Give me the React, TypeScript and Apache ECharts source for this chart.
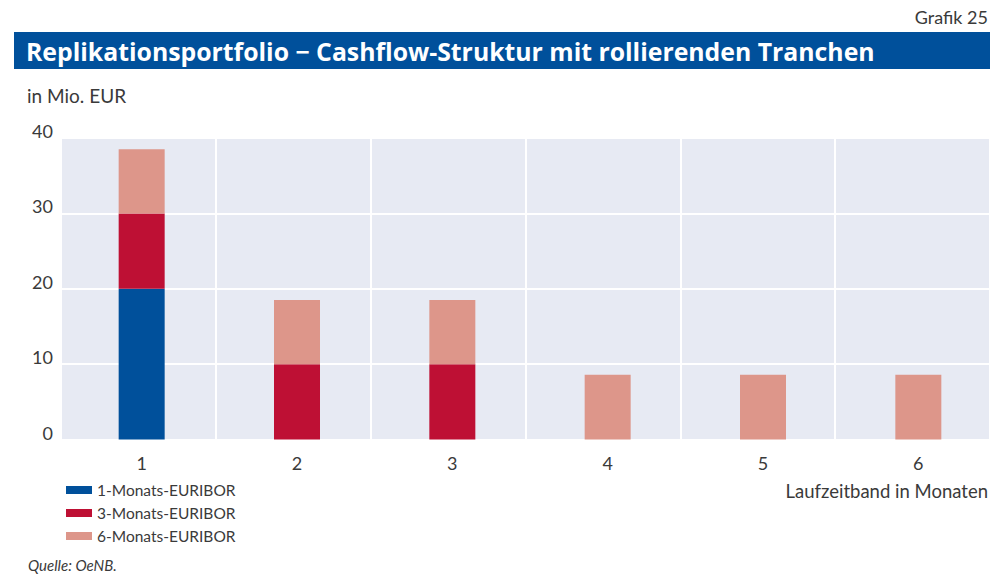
import React, { useEffect, useRef } from "react";
import * as echarts from "echarts";

const categories = ["1", "2", "3", "4", "5", "6"];
const oneMonth: (number | null)[] = [20, null, null, null, null, null];
const threeMonth: (number | null)[] = [10, 10, 10, null, null, null];
const sixMonth: (number | null)[] = [8.5, 8.5, 8.5, 8.6, 8.6, 8.6];
const seriesNames = ["1-Monats-EURIBOR", "3-Monats-EURIBOR", "6-Monats-EURIBOR"];
const colors = ["#00509b", "#be1034", "#dd968a"];
const yTicks = { min: 0, max: 40, interval: 10 };

const FONT = "Lato, 'Open Sans', sans-serif";
const TITLE_FONT = "'Open Sans', Lato, sans-serif";
const TXT = "#3a3a3a";

export default function App() {
  const ref = useRef<HTMLDivElement>(null);
  useEffect(() => {
    if (!ref.current) return;
    const chart = echarts.init(ref.current, undefined, { renderer: "svg" });
    const data = [oneMonth, threeMonth, sixMonth];
    chart.setOption({
      animation: false,
      textStyle: { fontFamily: FONT },
      grid: [
        { left: 61, right: 9, top: 138, bottom: 141.5, show: true, backgroundColor: "#e7eaf3", borderWidth: 0 },
        { left: 64, right: 3, top: 138, bottom: 141.5 },
      ],
      xAxis: [
        {
          type: "category", gridIndex: 0, data: categories,
          axisLabel: { show: false }, axisTick: { show: false }, axisLine: { show: false },
          splitLine: { show: true, lineStyle: { color: "#ffffff", width: 2 } },
        },
        {
          type: "category", gridIndex: 1, data: categories,
          axisTick: { show: false }, axisLine: { show: false },
          axisLabel: { color: TXT, fontSize: 18, margin: 14, fontFamily: FONT },
        },
      ],
      yAxis: [
        {
          type: "value", gridIndex: 0, ...yTicks,
          axisLine: { show: false }, axisTick: { show: false },
          splitLine: { show: true, lineStyle: { color: "#ffffff", width: 2 } },
          axisLabel: { color: TXT, fontSize: 18, margin: 8, verticalAlign: "bottom", padding: [0, 0, -2, 0], fontFamily: FONT },
        },
        { type: "value", gridIndex: 1, ...yTicks, show: false, splitLine: { show: false } },
      ],
      legend: {
        orient: "vertical", left: 61, top: 477, itemWidth: 26, itemHeight: 8, itemGap: 7,
        icon: "rect",
        data: seriesNames,
        textStyle: { color: TXT, fontSize: 15.5, lineHeight: 15, fontFamily: FONT },
      },
      series: seriesNames.map((name, i) => ({
        name, type: "bar", stack: "total", xAxisIndex: 1, yAxisIndex: 1,
        barWidth: 46, data: data[i], itemStyle: { color: colors[i] },
      })),
      graphic: [
        { type: "rect", shape: { x: 14, y: 32, width: 976, height: 37 }, style: { fill: "#00509b" } },
        {
          type: "text", x: 26, y: 51,
          style: { text: "Replikationsportfolio − Cashflow-Struktur mit rollierenden Tranchen", fill: "#ffffff", font: `bold 24.8px ${TITLE_FONT}`, verticalAlign: "middle" },
        },
        { type: "text", x: 988, y: 17, style: { text: "Grafik 25", fill: TXT, font: `18px ${FONT}`, align: "right", verticalAlign: "middle" } },
        { type: "text", x: 27, y: 95, style: { text: "in Mio. EUR", fill: TXT, font: `19px ${FONT}`, verticalAlign: "middle" } },
        { type: "text", x: 988, y: 491, style: { text: "Laufzeitband in Monaten", fill: TXT, font: `18.5px ${FONT}`, align: "right", verticalAlign: "middle" } },
        { type: "text", x: 28, y: 565, style: { text: "Quelle: OeNB.", fill: TXT, font: `italic 15px ${FONT}`, verticalAlign: "middle" } },
      ],
    });
    return () => chart.dispose();
  }, []);
  return <div ref={ref} style={{ position: "fixed", left: 0, top: 0, width: 999, height: 581, background: "#fff" }} />;
}
